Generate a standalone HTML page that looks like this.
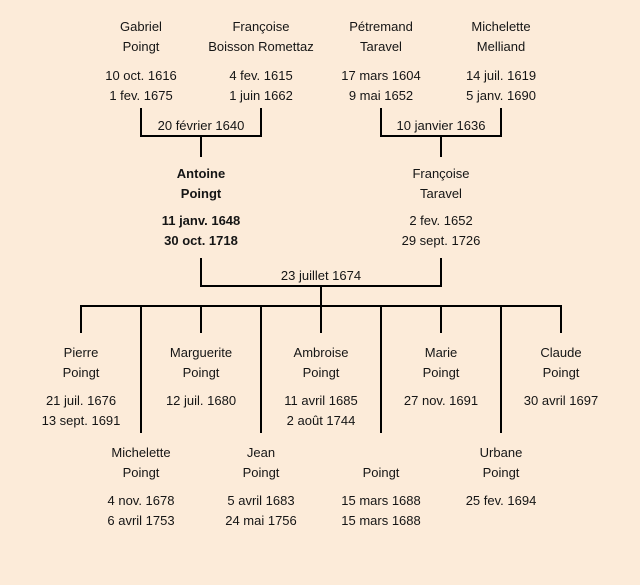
<!DOCTYPE html>
<html>
<head>
<meta charset="utf-8">
<style>
  html, body { margin: 0; padding: 0; background: #fcebd9; }
  svg { display: block; }
  text { font-family: "Liberation Sans", "DejaVu Sans", sans-serif; font-size: 13px; fill: #151515; text-anchor: middle; }
  .b { font-weight: bold; }
</style>
</head>
<body>
<svg width="640" height="585" viewBox="0 0 640 585" xmlns="http://www.w3.org/2000/svg">
  <rect x="0" y="0" width="640" height="585" fill="#fcebd9"/>
  <g stroke="#000" stroke-width="2" fill="none" shape-rendering="crispEdges">
    <!-- gen1 left couple -->
    <polyline points="141,108 141,136 261,136 261,108"/>
    <line x1="201" y1="136" x2="201" y2="157"/>
    <!-- gen1 right couple -->
    <polyline points="381,108 381,136 501,136 501,108"/>
    <line x1="441" y1="136" x2="441" y2="157"/>
    <!-- gen2 couple -->
    <polyline points="201,258 201,286 441,286 441,258"/>
    <line x1="321" y1="286" x2="321" y2="306"/>
    <!-- children bar -->
    <line x1="80" y1="306" x2="562" y2="306"/>
    <line x1="81" y1="306" x2="81" y2="333"/>
    <line x1="201" y1="306" x2="201" y2="333"/>
    <line x1="321" y1="306" x2="321" y2="333"/>
    <line x1="441" y1="306" x2="441" y2="333"/>
    <line x1="561" y1="306" x2="561" y2="333"/>
    <line x1="141" y1="306" x2="141" y2="433"/>
    <line x1="261" y1="306" x2="261" y2="433"/>
    <line x1="381" y1="306" x2="381" y2="433"/>
    <line x1="501" y1="306" x2="501" y2="433"/>
  </g>

  <!-- Generation 1 -->
  <text x="141" y="31">Gabriel</text>
  <text x="141" y="51">Poingt</text>
  <text x="141" y="80">10 oct. 1616</text>
  <text x="141" y="100">1 fev. 1675</text>

  <text x="261" y="31">Françoise</text>
  <text x="261" y="51">Boisson Romettaz</text>
  <text x="261" y="80">4 fev. 1615</text>
  <text x="261" y="100">1 juin 1662</text>

  <text x="381" y="31">Pétremand</text>
  <text x="381" y="51">Taravel</text>
  <text x="381" y="80">17 mars 1604</text>
  <text x="381" y="100">9 mai 1652</text>

  <text x="501" y="31">Michelette</text>
  <text x="501" y="51">Melliand</text>
  <text x="501" y="80">14 juil. 1619</text>
  <text x="501" y="100">5 janv. 1690</text>

  <text x="201" y="130">20 février 1640</text>
  <text x="441" y="130">10 janvier 1636</text>

  <!-- Generation 2 -->
  <text class="b" x="201" y="178">Antoine</text>
  <text class="b" x="201" y="198">Poingt</text>
  <text class="b" x="201" y="225">11 janv. 1648</text>
  <text class="b" x="201" y="245">30 oct. 1718</text>

  <text x="441" y="178">Françoise</text>
  <text x="441" y="198">Taravel</text>
  <text x="441" y="225">2 fev. 1652</text>
  <text x="441" y="245">29 sept. 1726</text>

  <text x="321" y="280">23 juillet 1674</text>

  <!-- Children top row -->
  <text x="81" y="357">Pierre</text>
  <text x="81" y="377">Poingt</text>
  <text x="81" y="405">21 juil. 1676</text>
  <text x="81" y="425">13 sept. 1691</text>

  <text x="201" y="357">Marguerite</text>
  <text x="201" y="377">Poingt</text>
  <text x="201" y="405">12 juil. 1680</text>

  <text x="321" y="357">Ambroise</text>
  <text x="321" y="377">Poingt</text>
  <text x="321" y="405">11 avril 1685</text>
  <text x="321" y="425">2 août 1744</text>

  <text x="441" y="357">Marie</text>
  <text x="441" y="377">Poingt</text>
  <text x="441" y="405">27 nov. 1691</text>

  <text x="561" y="357">Claude</text>
  <text x="561" y="377">Poingt</text>
  <text x="561" y="405">30 avril 1697</text>

  <!-- Children bottom row -->
  <text x="141" y="457">Michelette</text>
  <text x="141" y="477">Poingt</text>
  <text x="141" y="505">4 nov. 1678</text>
  <text x="141" y="525">6 avril 1753</text>

  <text x="261" y="457">Jean</text>
  <text x="261" y="477">Poingt</text>
  <text x="261" y="505">5 avril 1683</text>
  <text x="261" y="525">24 mai 1756</text>

  <text x="381" y="477">Poingt</text>
  <text x="381" y="505">15 mars 1688</text>
  <text x="381" y="525">15 mars 1688</text>

  <text x="501" y="457">Urbane</text>
  <text x="501" y="477">Poingt</text>
  <text x="501" y="505">25 fev. 1694</text>
</svg>
</body>
</html>
